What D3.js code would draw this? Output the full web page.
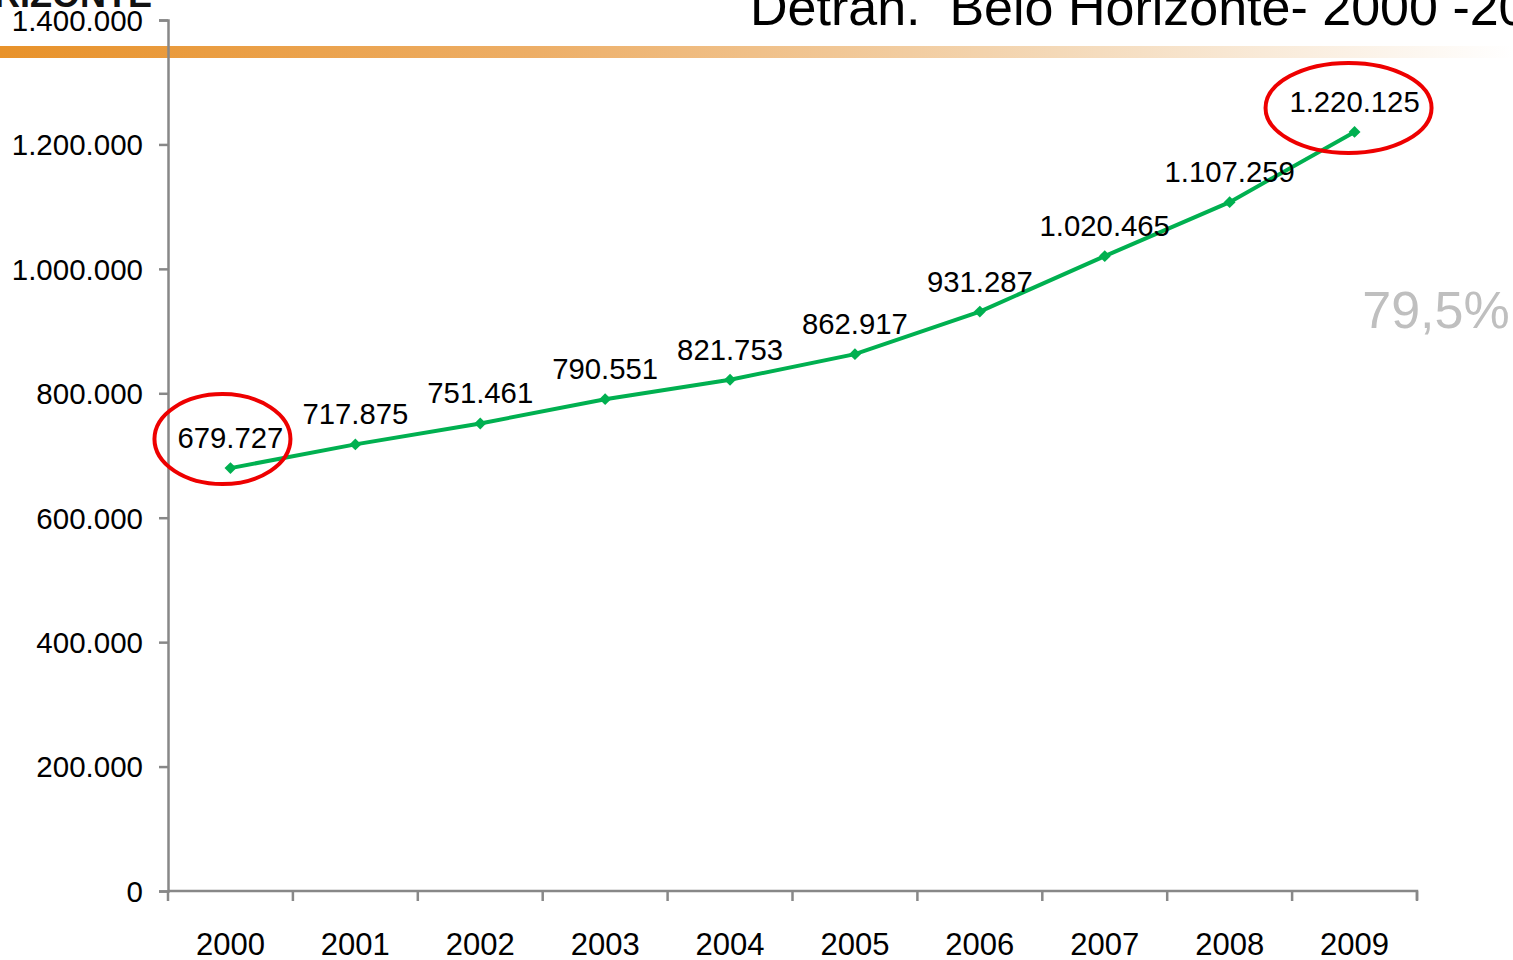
<!DOCTYPE html>
<html>
<head>
<meta charset="utf-8">
<script src="https://cdn.jsdelivr.net/npm/d3@7"></script>
<style>
  html, body { margin: 0; padding: 0; background: #fff; overflow: hidden; }
  svg { display: block; font-family: "Liberation Sans", Arial, sans-serif; }
</style>
</head>
<body>
<svg id="chart"></svg>
<script>
// data
const years = ["2000", "2001", "2002", "2003", "2004", "2005", "2006", "2007", "2008", "2009"];
const vehicles = [679727, 717875, 751461, 790551, 821753, 862917, 931287, 1020465, 1107259, 1220125];
const yTicks = [0, 200000, 400000, 600000, 800000, 1000000, 1200000, 1400000];
const highlighted = ["2000", "2009"];

const width = 1513, height = 960;
const svg = d3.select("#chart").attr("width", width).attr("height", height);

const fmt = v => d3.format(",")(v).replace(/,/g, ".");

// header band (slide decoration)
const defs = svg.append("defs");
const grad = defs.append("linearGradient").attr("id", "band").attr("x1", "0").attr("x2", "1");
grad.append("stop").attr("offset", "0").attr("stop-color", "#E8922A");
grad.append("stop").attr("offset", "0.35").attr("stop-color", "#EDAE66");
grad.append("stop").attr("offset", "0.7").attr("stop-color", "#F4D9B8");
grad.append("stop").attr("offset", "1").attr("stop-color", "#FFFFFF");
svg.append("rect").attr("x", 0).attr("y", 46).attr("width", width).attr("height", 12)
    .attr("fill", "url(#band)");

svg.append("text").attr("x", 152).attr("y", 7)
    .attr("text-anchor", "end")
    .attr("font-size", 36).attr("font-weight", "bold").attr("fill", "#111")
    .text("BELO HORIZONTE");

svg.append("text").attr("x", 750).attr("y", 25)
    .attr("font-size", 52).attr("fill", "#000")
    .style("white-space", "pre")
    .text("Detran.  Belo Horizonte- 2000 -2009");

// scales
const x = d3.scaleBand().domain(years).range([168, 1417]);
const y = d3.scaleLinear().domain([0, 1400000]).range([891, 20]);
const cx = d => x(d) + x.bandwidth() / 2;

// axes
const yAxis = svg.append("g").attr("transform", "translate(168,0)")
    .call(d3.axisLeft(y).tickValues(yTicks).tickFormat(fmt).tickSize(9).tickPadding(16));
const xAxis = svg.append("g").attr("transform", "translate(0,891)")
    .call(d3.axisBottom(x).tickSize(0).tickPadding(42));

[yAxis, xAxis].forEach(g => {
    g.select(".domain").attr("stroke", "#888").attr("stroke-width", 2.5);
    g.selectAll(".tick line").attr("stroke", "#888").attr("stroke-width", 2.5);
    g.selectAll("text").attr("fill", "#000")
        .attr("font-family", "'Liberation Sans', Arial, sans-serif");
});
yAxis.selectAll(".tick text").attr("font-size", 29.5).attr("dy", "0.35em");
xAxis.selectAll(".tick text").attr("font-size", 31);
xAxis.select(".domain").attr("d", "M168,0H1417V9");

// x ticks between categories
xAxis.selectAll("line.sep")
    .data(years.concat(["end"])).enter()
    .append("line")
    .attr("class", "sep")
    .attr("x1", (d, i) => 168 + i * x.step())
    .attr("x2", (d, i) => 168 + i * x.step())
    .attr("y1", 0).attr("y2", 10)
    .attr("stroke", "#888").attr("stroke-width", 2.5);

// line
const pts = years.map((yr, i) => ({ year: yr, value: vehicles[i] }));
svg.append("path")
    .datum(pts)
    .attr("fill", "none")
    .attr("stroke", "#00B050")
    .attr("stroke-width", 4)
    .attr("d", d3.line().x(d => cx(d.year)).y(d => y(d.value)));

svg.append("g").selectAll("path")
    .data(pts).enter()
    .append("path")
    .attr("d", d3.symbol().type(d3.symbolDiamond2).size(90))
    .attr("transform", d => `translate(${cx(d.year)},${y(d.value)})`)
    .attr("fill", "#00B050");

// labels
svg.append("g").selectAll("text")
    .data(pts).enter()
    .append("text")
    .attr("x", d => cx(d.year))
    .attr("y", d => y(d.value) - 20)
    .attr("text-anchor", "middle")
    .attr("font-size", 29.3)
    .attr("fill", "#000")
    .text(d => fmt(d.value));

// red ellipses on first and last
const ring = { "2000": [-8, -29, 68, 45], "2009": [-6, -24, 83, 45] };
svg.append("g").selectAll("ellipse")
    .data(pts.filter(d => highlighted.includes(d.year))).enter()
    .append("ellipse")
    .attr("cx", d => cx(d.year) + ring[d.year][0])
    .attr("cy", d => y(d.value) + ring[d.year][1])
    .attr("rx", d => ring[d.year][2])
    .attr("ry", d => ring[d.year][3])
    .attr("fill", "none")
    .attr("stroke", "#EE0000")
    .attr("stroke-width", 4);

// growth annotation
svg.append("text").attr("x", 1436).attr("y", 328)
    .attr("text-anchor", "middle")
    .attr("font-size", 52).attr("fill", "#BFBFBF")
    .text("79,5%");
</script>
</body>
</html>
